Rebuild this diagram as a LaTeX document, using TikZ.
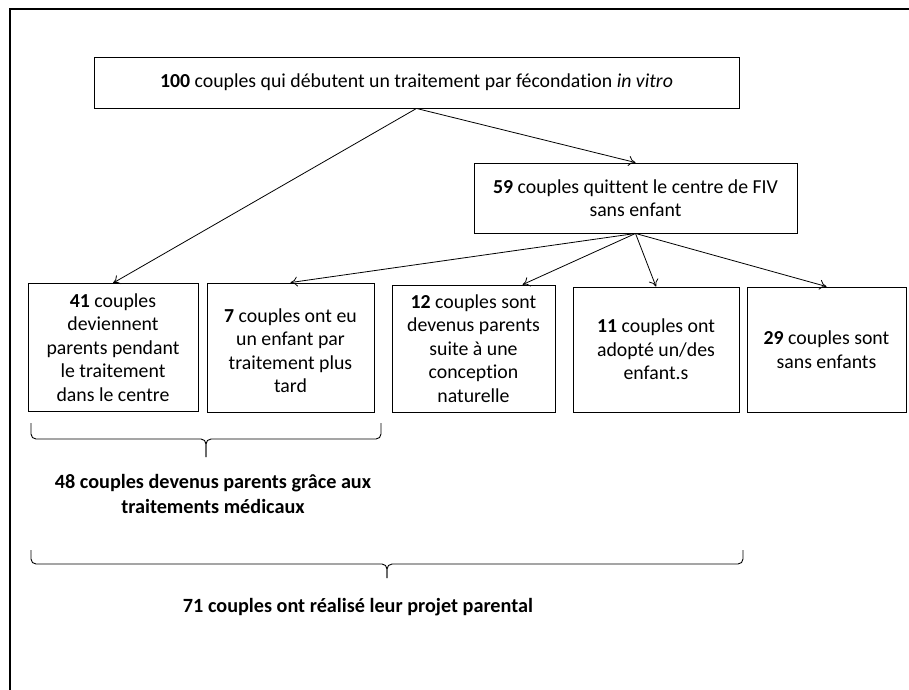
\documentclass[tikz,border=0pt]{standalone}
\usepackage{fontspec}
\setmainfont{Carlito}[Ligatures={NoCommon}]
\usetikzlibrary{calc,arrows.meta}

\begin{document}
\begin{tikzpicture}[x=1pt,y=-1pt,
    boite/.style={draw, line width=0.9pt, inner sep=0pt, align=center,
      font=\fontsize{19.8}{23.5}\selectfont},
    fleche/.style={-{To[length=7pt,width=10pt]}, line width=0.8pt},
    accolade/.style={line width=0.9pt, rounded corners=5pt},
    bilan/.style={align=center, font=\fontsize{20.2}{25}\selectfont\bfseries}]
        \useasboundingbox (0,0) rectangle (909,689);
        % cadre
        \draw[line width=2.5pt] (10,720) -- (10,9) -- (940,9);
        % boites
        \node[boite, minimum width=645, minimum height=51] (debut) at (416.5,82.5)
            {\textbf{100} couples qui débutent un traitement par fécondation \textit{in vitro}};
        \node[boite, minimum width=323, minimum height=70] (quittent) at (635.5,198)
            {\textbf{59} couples quittent le centre de FIV\\sans enfant};
        \node[boite, minimum width=170, minimum height=128] (pendant) at (113,347.5)
            {\textbf{41} couples\\deviennent\\parents pendant\\le traitement\\dans le centre};
        \node[boite, minimum width=167, minimum height=129] (plustard) at (290.5,347.5)
            {\mbox{}\\[-3pt]\textbf{7} couples ont eu\\un enfant par\\traitement plus\\tard};
        \node[boite, minimum width=163, minimum height=127] (naturelle) at (473.5,348.5)
            {\textbf{12} couples sont\\devenus parents\\suite à une\\conception\\naturelle};
        \node[boite, minimum width=166, minimum height=125] (adoption) at (656,349.5)
            {\textbf{11} couples ont\\adopté un/des\\enfant.s};
        \node[boite, minimum width=159, minimum height=125] (sansenfant) at (826.5,349.5)
            {\textbf{29} couples sont\\sans enfants};
        % fleches
        \draw[fleche] (debut.south) -- (pendant.north);
        \draw[fleche] (debut.south) -- (quittent.north);
        \draw[fleche] (quittent.south) -- (plustard.north);
        \draw[fleche] (quittent.south) -- ($(naturelle.north west)!0.8!(naturelle.north east)$);
        \draw[fleche] (quittent.south) -- (adoption.north);
        \draw[fleche] (quittent.south) -- (sansenfant.north);
        % accolades
        \draw[accolade] (31,423) -- (31,439) -- (206,439) -- (206,457);
        \draw[accolade] (381,423) -- (381,439) -- (206,439) -- (206,457);
        \draw[accolade] (31,550) -- (31,564) -- (387,564) -- (387,578);
        \draw[accolade] (743,550) -- (743,564) -- (387,564) -- (387,578);
        \node[bilan] (medicaux) at (213,494)
            {48 couples devenus parents grâce aux\\traitements médicaux};
        \node[bilan] (projet) at (358,607)
            {71 couples ont réalisé leur projet parental};
\end{tikzpicture}
\end{document}
